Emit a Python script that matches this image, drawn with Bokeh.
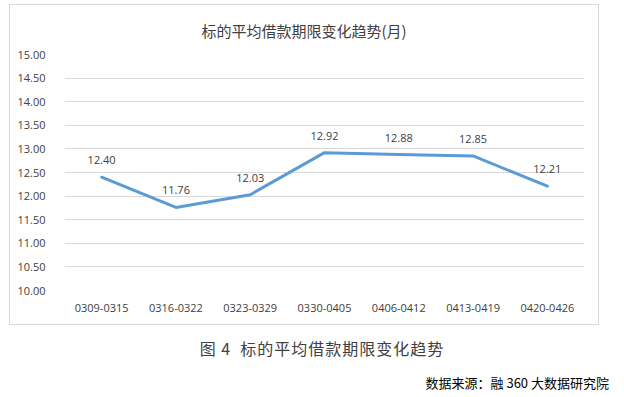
from bokeh.plotting import figure
from bokeh.layouts import column
from bokeh.models import (Range1d, FactorRange, FixedTicker, NumeralTickFormatter,
                          ColumnDataSource, LabelSet, Div)
from bokeh.core.properties import value
from bokeh.embed import file_html
from bokeh.resources import INLINE

categories = ["0309-0315", "0316-0322", "0323-0329", "0330-0405",
              "0406-0412", "0413-0419", "0420-0426"]
values = [12.40, 11.76, 12.03, 12.92, 12.88, 12.85, 12.21]
y_ticks = [10.0, 10.5, 11.0, 11.5, 12.0, 12.5, 13.0, 13.5, 14.0, 14.5, 15.0]

title_text = "标的平均借款期限变化趋势(月)"
caption_text = "图 4&nbsp;&nbsp;标的平均借款期限变化趋势"
source_text = "数据来源：融 360 大数据研究院"

p = figure(width=590, height=321, x_range=FactorRange(*categories, range_padding=0),
           y_range=Range1d(10, 15), output_backend="svg", toolbar_location=None,
           min_border_left=54, min_border_right=16, min_border_top=48,
           min_border_bottom=36, title=title_text)
p.margin = (4, 0, 0, 9)
p.styles = {"border": "1px solid #d9d9d9", "box-sizing": "border-box"}
p.outline_line_color = None
p.background_fill_color = "white"
p.border_fill_color = "white"

p.title.align = "left"
p.title.offset = 137
p.title.standoff = 26
p.title.vertical_align = "middle"
p.title.text_font = "Noto Sans CJK SC"
p.title.text_font_size = "15px"
p.title.text_font_style = "normal"
p.title.text_color = "#404040"

p.xgrid.grid_line_color = None
p.ygrid.grid_line_color = "#d9d9d9"
p.ygrid.grid_line_width = 1

p.yaxis.ticker = FixedTicker(ticks=y_ticks)
p.yaxis.formatter = NumeralTickFormatter(format="0.00")
for ax in (p.xaxis[0], p.yaxis[0]):
    ax.axis_line_color = None
    ax.major_tick_line_color = None
    ax.minor_tick_line_color = None
    ax.major_label_text_font = "Open Sans"
    ax.major_label_text_font_size = "11px"
    ax.major_label_text_color = "#404040"
p.yaxis.major_label_standoff = 13
p.xaxis.major_label_standoff = 7

src = ColumnDataSource(dict(x=categories, y=values,
                            lab=["%.2f" % v for v in values]))
p.line("x", "y", source=src, line_color="#5B9BD5", line_width=3,
       line_join="round", line_cap="round")
p.add_layout(LabelSet(x="x", y="y", text="lab", source=src, text_align="center",
                      text_baseline="middle", y_offset=17,
                      text_font=value("Open Sans"), text_font_size="11px",
                      text_color="#404040"))

html = (
    '<div style="position:relative;width:624px;height:72px;">'
    '<div style="position:absolute;left:0;width:644px;top:11px;text-align:center;'
    'font-family:\'Noto Sans CJK SC\';font-size:16px;line-height:24px;color:#404040;'
    'letter-spacing:1px;">' + caption_text + '</div>'
    '<div style="position:absolute;right:15px;top:49px;white-space:nowrap;'
    'font-family:\'Noto Sans CJK SC\';font-size:13px;line-height:18px;color:#000;">'
    + source_text + '</div></div>'
)
div = Div(text=html, width=624, height=72, margin=0)

layout = column(p, div, spacing=0)
open("out.html", "w").write(file_html(layout, INLINE))
